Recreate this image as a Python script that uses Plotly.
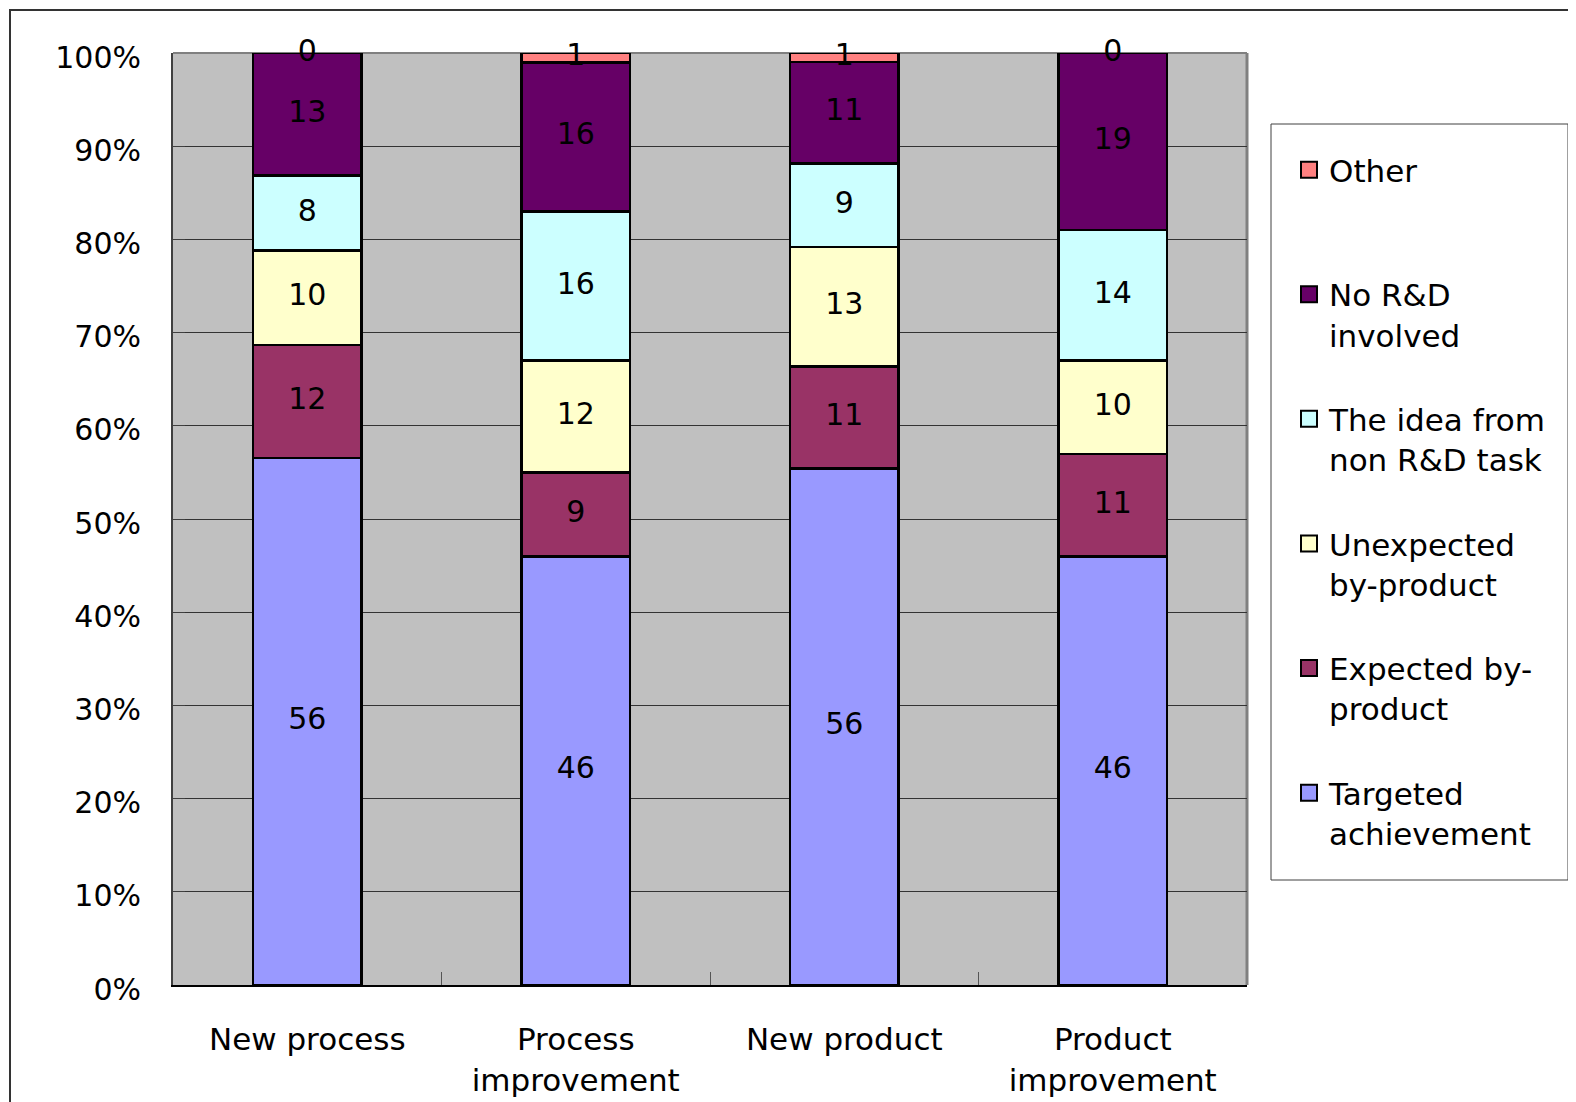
import numpy as np
import plotly.graph_objects as go

categories = ["New process", "Process improvement", "New product", "Product improvement"]
tick_labels = ["New process", "Process<br>improvement", "New product", "Product<br>improvement"]

series_names = [
    "Targeted<br>achievement",
    "Expected by-<br>product",
    "Unexpected<br>by-product",
    "The idea from<br>non R&D task",
    "No R&D<br>involved",
    "Other<br> ",
]
targeted = [56, 46, 56, 46]
expected = [12, 9, 11, 11]
unexpected = [10, 12, 13, 10]
idea_non_rd = [8, 16, 9, 14]
no_rd = [13, 16, 11, 19]
other = [0, 1, 1, 0]
series_values = [targeted, expected, unexpected, idea_non_rd, no_rd, other]
colors = ["#9999FF", "#993366", "#FFFFCC", "#CCFFFF", "#660066", "#FF8080"]
y_ticks = [0, 10, 20, 30, 40, 50, 60, 70, 80, 90, 100]

FONT = "DejaVu Sans"
FS = 30

# figure sits at an 8px page offset; size/margins chosen so the page layout matches
W, H = 1568, 1094
L, R, T, B = 165, 329, 45, 117
PW, PH = W - L - R, H - T - B

fig = go.Figure()
for name, vals, col in zip(series_names, series_values, colors):
    fig.add_trace(go.Bar(
        x=categories, y=vals, name=name, showlegend=False,
        marker=dict(color=col, line=dict(color="black", width=2.5)),
        width=0.405,
    ))

# legend entries (top-to-bottom: Other ... Targeted) with larger square symbols
for k, (name, col) in enumerate(reversed(list(zip(series_names, colors)))):
    fig.add_trace(go.Scatter(
        x=[None], y=[None], mode="markers", name=name, legendgroup=f"g{k}",
        marker=dict(symbol="square", size=16, color=col, line=dict(color="black", width=2)),
        hoverinfo="skip",
    ))

# value labels at segment centres (normalised to 100%)
arr = np.array(series_values, dtype=float)
pct = arr / arr.sum(axis=0) * 100
cum = np.cumsum(pct, axis=0)
mids = cum - pct / 2
for i in range(arr.shape[0]):
    fig.add_trace(go.Scatter(
        x=categories, y=mids[i], mode="text",
        text=[str(int(v)) for v in arr[i]],
        textposition="middle center",
        textfont=dict(family=FONT, size=FS, color="black"),
        showlegend=False, hoverinfo="skip", cliponaxis=False,
    ))

fig.update_layout(
    barmode="stack", barnorm="percent",
    width=W, height=H,
    margin=dict(l=L, r=R, t=T, b=B, autoexpand=False),
    paper_bgcolor="white", plot_bgcolor="#C0C0C0",
    font=dict(family=FONT, size=FS, color="black"),
    legend=dict(
        x=(1281 - L) / PW, y=(H - B - 135) / PH, xanchor="left", yanchor="top",
        traceorder="grouped", tracegroupgap=41,
        valign="top", itemsizing="trace",
        bgcolor="rgba(0,0,0,0)", borderwidth=0,
        font=dict(family=FONT, size=31, color="black"),
    ),
    showlegend=True,
)
fig.update_xaxes(
    type="category", tickmode="array", tickvals=categories, ticktext=tick_labels,
    tickson="boundaries", ticks="inside", ticklen=13, tickcolor="#555555",
    showgrid=False, showline=True, linecolor="black", linewidth=2,
    ticklabelstandoff=26, tickfont=dict(family=FONT, size=31), automargin=False,
)
fig.update_yaxes(
    range=[0, 100], tickmode="array", tickvals=y_ticks,
    ticktext=[f"{v}%" for v in y_ticks],
    ticks="inside", ticklen=12, tickcolor="#404040",
    showgrid=True, gridcolor="#333333", gridwidth=1,
    showline=True, linecolor="#404040", linewidth=2,
    zeroline=False, ticklabelstandoff=24, ticklabelshift=4,
    tickfont=dict(family=FONT, size=FS), automargin=False,
)
# gray top/right border of plot area
fig.add_shape(type="line", xref="x domain", yref="y domain", x0=0, x1=1, y0=1, y1=1,
              line=dict(color="#808080", width=2), layer="below")
fig.add_shape(type="line", xref="x domain", yref="y domain", x0=1, x1=1, y0=0, y1=1,
              line=dict(color="#808080", width=3), layer="below")
# legend box
fig.add_shape(type="rect", xref="paper", yref="paper",
              x0=(1263 - L) / PW, x1=(1560 - L) / PW,
              y0=(H - B - 872) / PH, y1=(H - B - 116) / PH,
              line=dict(color="#404040", width=1), fillcolor="white", layer="below")
# outer chart border (extends past the canvas at right/bottom)
fig.add_shape(type="rect", xref="paper", yref="paper",
              x0=(2 - L) / PW, x1=1.6, y0=-0.5, y1=(H - B - 2) / PH,
              line=dict(color="#333333", width=2), fillcolor="rgba(0,0,0,0)")

fig.write_html("out.html")
